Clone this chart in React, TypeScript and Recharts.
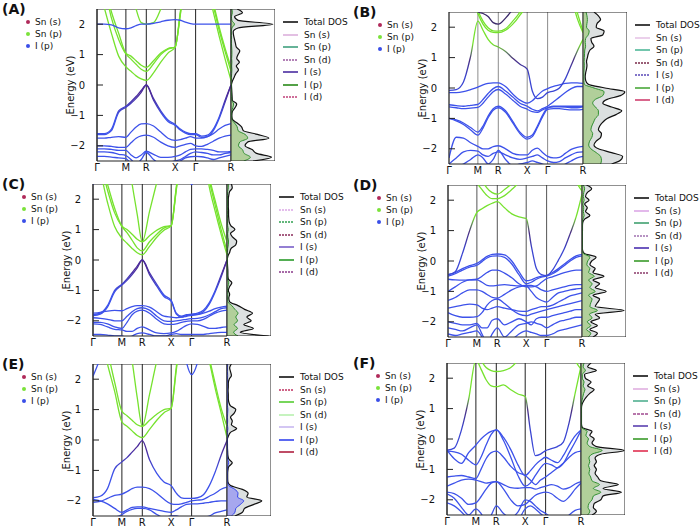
import { Area, ComposedChart, Line, LineChart, ReferenceLine, XAxis, YAxis } from "recharts";

// k-path (Γ-M-R-X-Γ-R) sample positions and high-symmetry points
const K_PATH = [0, 0.177, 0.354, 0.53, 0.707, 0.832, 0.957, 1.082, 1.207, 1.384, 1.561, 1.737, 1.914, 2.039, 2.164, 2.289, 2.414, 2.558, 2.703, 2.847, 2.991, 3.136, 3.28];
const HS_INDEX = [0, 4, 8, 12, 16, 22];
const HS_LABELS = ["Γ", "M", "R", "X", "Γ", "R"];
const E_TICKS = [-2, -1, 0, 1, 2];
const E_GRID = [-2.5, -2.375, -2.25, -2.125, -2, -1.875, -1.75, -1.625, -1.5, -1.375, -1.25, -1.125, -1, -0.875, -0.75, -0.625, -0.5, -0.375, -0.25, -0.125, 0, 0.125, 0.25, 0.375, 0.5, 0.625, 0.75, 0.875, 1, 1.125, 1.25, 1.375, 1.5, 1.625, 1.75, 1.875, 2, 2.125, 2.25, 2.375, 2.5];
const DOT_LABELS = ["Sn (s)", "Sn (p)", "I (p)"];
const LEGEND_LABELS = ["Total DOS", "Sn (s)", "Sn (p)", "Sn (d)", "I (s)", "I (p)", "I (d)"];
const PANEL_TAGS = ["(A)", "(B)", "(C)", "(D)", "(E)", "(F)"];

// ---- panel A ----
const A_VALENCE = [
  [-1.6, -1.6, -1.45, -0.85, -0.7, -0.55, -0.38, -0.18, 0, -0.45, -0.85, -1.15, -1.3, -1.45, -1.55, -1.6, -1.6, -1.68, -1.65, -1.45, -1.05, -0.5, 0],
  [-1.63, -1.63, -1.5, -0.9, -0.73, -0.6, -0.44, -0.24, 0, -0.5, -0.9, -1.2, -1.33, -1.48, -1.58, -1.63, -1.63, -1.72, -1.7, -1.5, -1.1, -0.56, 0],
  [-1.75, -1.75, -1.72, -1.7, -1.72, -1.55, -1.38, -1.28, -1.27, -1.35, -1.55, -1.75, -1.82, -1.8, -1.75, -1.7, -1.75, -1.75, -1.7, -1.6, -1.45, -1.33, -1.27],
  [-2.0, -2.0, -2.02, -2.05, -2.05, -1.9, -1.75, -1.67, -1.65, -1.72, -1.88, -2.0, -2.05, -2.0, -1.95, -1.92, -2.0, -2.02, -1.95, -1.85, -1.75, -1.68, -1.65],
  [-2.1, -2.1, -2.12, -2.15, -2.15, -2.3, -2.4, -2.3, -2.18, -2.28, -2.38, -2.38, -2.35, -2.3, -2.2, -2.12, -2.1, -2.1, -2.12, -2.15, -2.2, -2.2, -2.18],
  [-2.2, -2.2, -2.22, -2.28, -2.32, -2.45, -2.6, -2.45, -2.22, -2.45, -2.6, -2.55, -2.5, -2.45, -2.35, -2.25, -2.2, -2.22, -2.25, -2.3, -2.3, -2.25, -2.22],
  [-2.35, -2.35, -2.37, -2.4, -2.42, -2.6, -2.8, -2.7, -2.6, -2.7, -2.8, -2.7, -2.6, -2.5, -2.4, -2.36, -2.35, -2.36, -2.4, -2.45, -2.4, -2.35, -2.3],
];
const A_CONDUCTION = [
  [3.5, 2.55, 1.7, 0.95, 0.6, 0.45, 0.3, 0.2, 0.15, 0.4, 0.75, 1.05, 1.25, 2.3, 3.5, 3.5, 3.5, 3.5, 3.2, 2.4, 1.6, 0.85, 0.15],
  [3.5, 3.2, 2.2, 1.5, 1.02, 0.85, 0.68, 0.52, 0.45, 0.7, 1.0, 1.18, 1.25, 2.35, 3.5, 3.5, 3.5, 3.5, 3.3, 2.6, 1.8, 1.1, 0.45],
  [3.5, 3.3, 2.4, 1.7, 1.05, 0.95, 0.8, 0.65, 0.58, 0.8, 1.05, 1.2, 1.25, 2.4, 3.5, 3.5, 3.5, 3.5, 3.4, 2.7, 1.9, 1.2, 0.58],
  [3.5, 3.5, 3.5, 3.5, 3.5, 3.2, 2.5, 2.05, 2.0, 2.05, 2.5, 3.2, 3.5, 3.5, 3.5, 3.5, 3.5, 3.5, 3.5, 3.5, 3.5, 3.5, 3.5],
];
const A_UPPER = [2.0, 2.0, 1.98, 1.88, 1.85, 1.88, 1.95, 2.0, 2.0, 2.03, 2.08, 2.13, 2.15, 2.13, 2.07, 2.02, 2.0, 2.0, 2.0, 2.0, 2.0, 2.0, 2.0];
const A_DOS_TOTAL = [5.0, 9.2, 5.8, 4.8, 3.2, 3.8, 8.6, 6.0, 2.8, 2.4, 1.4, 0.3, 0.2, 0.3, 0.9, 1.3, 0.3, 0.25, 0.2, 0.15, 0.1, 0.3, 0.7, 1.1, 1.7, 1.2, 1.9, 1.3, 1.6, 2.0, 1.2, 1.0, 0.8, 0.6, 0.5, 1.6, 9.5, 1.6, 0.8, 2.6, 1.4];
const A_DOS_IP = [2.9, 4.4, 3.0, 2.6, 1.7, 2.0, 3.8, 3.2, 1.6, 1.4, 0.8, 0.15, 0.1, 0.15, 0.4, 0.6, 0.15, 0.1, 0.1, 0.05, 0.05, 0.05, 0.1, 0.15, 0.2, 0.15, 0.2, 0.15, 0.2, 0.2, 0.15, 0.1, 0.1, 0.1, 0.1, 0.2, 0.8, 0.2, 0.1, 0.3, 0.2];

// ---- panel B ----
const B_VALENCE = [
  [-0.15, -0.15, -0.12, -0.05, 0.03, 0.1, 0.15, 0.17, 0.17, 0.05, -0.2, -0.4, -0.5, -0.42, -0.25, -0.1, -0.02, 0.05, 0.1, 0.15, 0.17, 0.17, 0.15],
  [-0.55, -0.58, -0.6, -0.57, -0.54, -0.38, -0.18, -0.02, 0.05, -0.1, -0.3, -0.5, -0.6, -0.7, -0.75, -0.68, -0.6, -0.45, -0.3, -0.15, -0.02, 0.05, 0.05],
  [-0.62, -0.65, -0.68, -0.66, -0.64, -0.5, -0.3, -0.12, -0.05, -0.2, -0.4, -0.6, -0.7, -0.78, -0.8, -0.72, -0.65, -0.6, -0.6, -0.6, -0.6, -0.6, -0.6],
  [-1.0, -1.05, -1.15, -1.3, -1.45, -1.25, -0.92, -0.68, -0.6, -0.75, -1.1, -1.45, -1.62, -1.55, -1.25, -0.9, -0.65, -0.62, -0.62, -0.63, -0.65, -0.65, -0.62],
  [-1.0, -1.08, -1.2, -1.38, -1.55, -1.32, -0.98, -0.73, -0.65, -0.8, -1.15, -1.5, -1.68, -1.6, -1.3, -0.95, -0.7, -0.68, -0.68, -0.7, -0.72, -0.72, -0.7],
  [-2.3, -1.62, -1.65, -1.8, -1.92, -2.0, -2.0, -1.93, -1.9, -2.0, -2.15, -2.2, -2.2, -2.05, -1.98, -2.12, -2.25, -2.3, -2.28, -2.15, -2.02, -1.95, -1.92],
  [-2.5, -2.3, -2.1, -2.05, -2.08, -2.2, -2.25, -2.15, -2.1, -2.2, -2.3, -2.35, -2.3, -2.25, -2.2, -2.3, -2.4, -2.45, -2.42, -2.3, -2.2, -2.12, -2.1],
  [-2.7, -2.6, -2.5, -2.35, -2.2, -2.3, -2.5, -2.35, -2.05, -2.35, -2.55, -2.5, -2.45, -2.4, -2.45, -2.5, -2.55, -2.6, -2.6, -2.5, -2.4, -2.3, -2.25],
];
const B_MAIN = [-0.08, -0.05, 0.2, 1.05, 2.2, 1.9, 1.6, 1.42, 1.35, 1.2, 0.98, 0.78, 0.62, -0.1, -0.35, -0.3, -0.15, -0.1, 0.0, 0.3, 0.75, 1.2, 1.6];
const B_CONDUCTION = [
  [3.5, 3.5, 3.5, 3.2, 2.45, 2.1, 1.9, 1.83, 1.82, 1.9, 2.1, 2.4, 2.8, 3.5, 3.5, 3.5, 3.5, 3.5, 3.5, 3.5, 3.0, 2.3, 1.82],
  [3.5, 3.5, 3.5, 3.3, 2.55, 2.2, 1.98, 1.88, 1.87, 1.95, 2.2, 2.5, 3.0, 3.5, 3.5, 3.5, 3.5, 3.5, 3.5, 3.5, 3.2, 2.5, 1.87],
];
const B_DARK = [3.5, 3.5, 3.5, 3.0, 2.5, 2.45, 2.35, 2.15, 2.1, 2.3, 2.6, 3.0, 3.5, 3.5, 3.5, 3.5, 3.5, 3.5, 3.5, 3.5, 3.5, 3.5, 3.5];
const B_DOS_TOTAL = [6.5, 8.5, 9.0, 6.5, 3.5, 2.5, 3.0, 4.0, 4.2, 3.5, 3.8, 4.5, 5.5, 7.5, 8.8, 6.5, 4.5, 5.5, 8.5, 9.5, 5.0, 1.2, 0.6, 0.5, 0.6, 0.8, 0.9, 0.8, 1.0, 1.2, 1.6, 2.5, 2.0, 1.8, 4.5, 4.8, 3.0, 3.2, 4.0, 3.5, 2.5];
const B_DOS_IP = [4.0, 4.2, 4.0, 3.0, 1.8, 1.3, 1.5, 2.0, 2.2, 1.8, 2.0, 2.4, 2.8, 3.5, 3.5, 2.8, 2.2, 2.8, 4.5, 4.8, 2.5, 0.3, 0.2, 0.2, 0.2, 0.25, 0.3, 0.25, 0.3, 0.35, 0.4, 0.6, 0.5, 0.6, 1.2, 1.4, 0.8, 0.9, 1.0, 0.9, 0.7];

// ---- panel C ----
const C_VALENCE = [
  [-1.8, -1.75, -1.5, -1.0, -0.8, -0.62, -0.42, -0.2, 0, -0.42, -0.8, -1.15, -1.33, -1.75, -1.85, -1.8, -1.78, -1.75, -1.65, -1.4, -1.0, -0.5, 0],
  [-1.83, -1.78, -1.55, -1.05, -0.82, -0.67, -0.48, -0.26, 0, -0.48, -0.86, -1.2, -1.36, -1.78, -1.88, -1.83, -1.8, -1.78, -1.7, -1.45, -1.05, -0.56, 0],
  [-1.75, -1.72, -1.68, -1.66, -1.67, -1.6, -1.53, -1.5, -1.5, -1.55, -1.7, -1.85, -1.88, -1.9, -1.88, -1.85, -1.82, -1.8, -1.75, -1.68, -1.6, -1.55, -1.52],
  [-1.9, -1.92, -1.95, -2.0, -2.0, -1.85, -1.7, -1.6, -1.57, -1.65, -1.85, -2.0, -2.02, -2.0, -1.98, -1.95, -1.93, -1.92, -1.88, -1.8, -1.7, -1.6, -1.57],
  [-2.05, -2.05, -2.1, -2.2, -2.25, -2.05, -1.8, -1.68, -1.65, -1.75, -1.95, -2.1, -2.12, -2.1, -2.05, -2.02, -2.0, -2.0, -1.95, -1.85, -1.75, -1.68, -1.65],
  [-2.1, -2.12, -2.2, -2.28, -2.3, -2.35, -2.35, -2.25, -2.2, -2.3, -2.4, -2.42, -2.4, -2.35, -2.25, -2.15, -2.1, -2.12, -2.18, -2.25, -2.25, -2.22, -2.2],
  [-2.45, -2.45, -2.47, -2.5, -2.5, -2.55, -2.5, -2.42, -2.4, -2.45, -2.5, -2.5, -2.45, -2.42, -2.45, -2.45, -2.45, -2.45, -2.45, -2.42, -2.4, -2.38, -2.38],
];
const C_CONDUCTION = [
  [3.5, 2.9, 1.9, 1.1, 0.72, 0.55, 0.38, 0.24, 0.17, 0.45, 0.75, 0.98, 1.12, 2.3, 3.5, 3.5, 3.5, 3.5, 3.5, 2.4, 1.6, 0.85, 0.17],
  [3.5, 3.2, 2.3, 1.55, 1.1, 0.9, 0.65, 0.4, 0.3, 0.6, 0.85, 1.05, 1.13, 2.35, 3.5, 3.5, 3.5, 3.5, 3.5, 2.6, 1.8, 1.0, 0.3],
  [3.5, 3.4, 2.5, 1.7, 1.12, 1.0, 0.85, 0.68, 0.6, 0.8, 0.98, 1.1, 1.13, 2.4, 3.5, 3.5, 3.5, 3.5, 3.5, 2.7, 1.95, 1.2, 0.6],
  [3.5, 3.5, 3.5, 3.5, 3.5, 3.5, 2.5, 1.5, 0.6, 1.6, 2.55, 3.5, 3.5, 3.5, 3.5, 3.5, 3.5, 3.5, 3.5, 3.5, 3.5, 3.5, 3.5],
];
const C_UPPER = [2.48, 3.0, 3.5, 3.5, 3.5, 3.5, 3.5, 3.5, 3.5, 3.5, 3.5, 3.5, 3.5, 3.5, 3.5, 3.0, 2.48, 3.0, 3.5, 3.5, 3.5, 3.5, 3.5];
const C_DOS_TOTAL = [9.5, 3.0, 6.0, 3.8, 5.5, 4.5, 5.8, 4.0, 2.5, 0.6, 0.4, 0.6, 0.3, 0.6, 1.1, 0.3, 0.2, 0.2, 0.15, 0.1, 0.05, 0.2, 0.6, 0.9, 2.0, 2.2, 1.3, 0.8, 1.8, 0.9, 0.5, 0.4, 0.35, 0.35, 0.3, 0.3, 0.3, 0.4, 0.6, 1.2, 1.0];
const C_DOS_IP = [2.5, 1.5, 2.4, 1.6, 2.4, 2.0, 2.5, 1.8, 1.1, 0.2, 0.15, 0.2, 0.1, 0.2, 0.4, 0.1, 0.1, 0.05, 0.05, 0.05, 0.05, 0.05, 0.1, 0.15, 0.3, 0.35, 0.2, 0.15, 0.3, 0.15, 0.1, 0.1, 0.1, 0.1, 0.1, 0.1, 0.1, 0.1, 0.15, 0.3, 0.3];

// ---- panel D ----
const D_VALENCE = [
  [-0.45, -0.38, -0.25, -0.15, -0.08, 0.03, 0.15, 0.22, 0.23, 0.2, 0.0, -0.35, -0.65, -0.62, -0.55, -0.5, -0.47, -0.38, -0.25, -0.1, 0.05, 0.17, 0.22],
  [-0.5, -0.42, -0.3, -0.2, -0.14, -0.02, 0.1, 0.16, 0.17, 0.12, -0.1, -0.45, -0.75, -0.7, -0.6, -0.53, -0.5, -0.42, -0.3, -0.15, 0.0, 0.12, 0.17],
  [-0.6, -0.62, -0.63, -0.62, -0.6, -0.5, -0.38, -0.3, -0.3, -0.4, -0.55, -0.75, -0.85, -0.85, -0.82, -0.7, -0.58, -0.52, -0.45, -0.38, -0.33, -0.3, -0.3],
  [-1.0, -0.85, -0.7, -0.62, -0.62, -0.7, -0.8, -0.82, -0.8, -0.78, -0.8, -0.82, -0.8, -0.8, -0.85, -0.95, -1.0, -0.95, -0.9, -0.85, -0.8, -0.78, -0.78],
  [-1.3, -1.2, -1.05, -0.95, -0.95, -1.0, -1.1, -1.2, -1.22, -1.1, -0.95, -0.85, -0.82, -1.0, -1.2, -1.3, -1.35, -1.2, -1.05, -1.0, -0.95, -0.92, -0.9],
  [-1.55, -1.5, -1.45, -1.42, -1.44, -1.55, -1.6, -1.55, -1.5, -1.55, -1.6, -1.65, -1.66, -1.6, -1.55, -1.5, -1.5, -1.45, -1.35, -1.25, -1.15, -1.1, -1.05],
  [-1.7, -1.8, -1.85, -1.85, -1.83, -1.7, -1.45, -1.3, -1.25, -1.4, -1.6, -1.75, -1.8, -1.75, -1.7, -1.65, -1.6, -1.55, -1.5, -1.45, -1.4, -1.35, -1.3],
  [-2.0, -2.05, -2.1, -2.1, -2.05, -2.2, -2.2, -1.95, -1.9, -2.1, -2.0, -1.9, -2.0, -2.1, -1.9, -1.85, -1.85, -1.8, -1.75, -1.7, -1.65, -1.6, -1.6],
  [-2.2, -2.25, -2.3, -2.2, -2.1, -2.4, -2.7, -2.4, -2.2, -2.5, -2.3, -2.1, -2.05, -2.0, -2.05, -2.1, -2.2, -2.1, -2.0, -1.95, -1.9, -1.85, -1.85],
  [-2.4, -2.45, -2.4, -2.35, -2.3, -2.5, -2.8, -2.7, -2.6, -2.8, -2.6, -2.4, -2.3, -2.35, -2.4, -2.45, -2.45, -2.4, -2.3, -2.25, -2.2, -2.15, -2.1],
];
const D_MAIN = [-0.45, -0.35, 0.25, 1.0, 1.6, 1.72, 1.82, 1.9, 1.95, 1.75, 1.55, 1.45, 1.4, 0.5, -0.25, -0.45, -0.48, -0.3, 0.03, 0.4, 0.9, 1.45, 2.2];
const D_CONDUCTION = [
  [3.5, 3.5, 3.5, 3.5, 2.6, 2.35, 2.15, 2.05, 2.05, 2.15, 2.35, 2.6, 3.0, 3.5, 3.5, 3.5, 3.5, 3.5, 3.5, 3.5, 3.0, 2.6, 2.3],
  [3.5, 3.5, 3.5, 3.5, 3.5, 2.7, 2.4, 2.25, 2.2, 2.35, 2.55, 2.8, 3.2, 3.5, 3.5, 3.5, 3.5, 3.5, 3.5, 3.5, 3.5, 2.6, 2.45],
];
const D_DOS_TOTAL = [2.5, 3.5, 1.8, 3.5, 2.0, 4.0, 3.0, 9.6, 3.0, 3.5, 4.0, 2.5, 5.5, 3.0, 4.0, 2.5, 5.0, 2.5, 3.0, 1.8, 2.2, 3.2, 0.5, 0.1, 0.08, 0.08, 0.08, 0.08, 0.1, 0.1, 0.15, 0.6, 1.8, 0.8, 1.2, 0.6, 1.6, 0.8, 1.2, 2.2, 1.0];
const D_DOS_IP = [1.4, 2.0, 1.0, 2.0, 1.2, 2.3, 1.7, 3.5, 1.8, 2.0, 2.3, 1.5, 3.0, 1.8, 2.3, 1.5, 2.8, 1.5, 1.8, 1.1, 1.3, 1.8, 0.3, 0.05, 0.04, 0.04, 0.04, 0.04, 0.05, 0.05, 0.08, 0.2, 0.5, 0.3, 0.4, 0.2, 0.5, 0.3, 0.4, 0.6, 0.3];

// ---- panel E ----
const E_VALENCE = [
  [-1.9, -1.85, -1.6, -0.95, -0.72, -0.58, -0.4, -0.22, -0.02, -0.65, -1.1, -1.38, -1.5, -1.75, -1.9, -1.92, -1.92, -1.9, -1.8, -1.5, -1.05, -0.5, -0.02],
  [-2.05, -2.02, -1.92, -1.82, -1.78, -1.7, -1.6, -1.55, -1.55, -1.6, -1.75, -1.95, -2.1, -2.12, -2.1, -2.05, -2.0, -1.98, -1.95, -1.85, -1.75, -1.62, -1.55],
  [-1.95, -2.0, -2.1, -2.25, -2.38, -2.3, -2.22, -2.2, -2.2, -2.25, -2.3, -2.35, -2.38, -2.3, -2.2, -2.12, -2.1, -2.1, -2.08, -2.05, -2.02, -2.0, -2.0],
  [-2.6, -2.6, -2.6, -2.55, -2.45, -2.35, -2.28, -2.25, -2.25, -2.3, -2.45, -2.55, -2.5, -2.5, -2.55, -2.6, -2.6, -2.6, -2.55, -2.5, -2.4, -2.35, -2.3],
];
const E_CONDUCTION = [
  [3.5, 3.5, 2.5, 1.6, 0.6, 0.45, 0.3, 0.15, 0.08, 0.35, 0.65, 0.9, 1.05, 2.3, 3.5, 3.5, 3.5, 3.5, 3.5, 2.6, 1.7, 0.9, 0.08],
  [3.5, 3.5, 2.9, 1.9, 0.95, 0.8, 0.65, 0.5, 0.45, 0.65, 0.85, 1.0, 1.05, 2.4, 3.5, 3.5, 3.5, 3.5, 3.5, 2.7, 1.85, 1.05, 0.45],
  [3.5, 3.5, 3.5, 3.5, 3.5, 3.5, 2.6, 1.4, 0.45, 1.5, 2.6, 3.5, 3.5, 3.5, 3.5, 3.5, 3.5, 3.5, 3.5, 3.5, 3.5, 3.5, 3.5],
];
const E_UPPER = [2.1, 2.7, 3.5, 3.5, 3.5, 3.5, 3.5, 3.5, 3.5, 3.5, 3.5, 3.5, 3.5, 3.5, 3.5, 2.55, 2.15, 2.55, 3.5, 3.5, 3.5, 3.5, 3.5];
const E_DOS_TOTAL = [1.8, 3.5, 4.0, 6.0, 7.9, 4.5, 4.8, 3.5, 0.8, 0.2, 0.15, 0.15, 0.2, 0.4, 1.2, 0.4, 0.2, 0.15, 0.1, 0.1, 0.05, 0.3, 0.8, 2.2, 1.0, 1.2, 0.8, 1.6, 2.0, 0.8, 0.4, 0.3, 0.3, 0.25, 0.3, 0.3, 0.5, 1.0, 0.8, 0.6, 1.0];
const E_DOS_IP = [1.0, 1.8, 2.0, 3.0, 3.8, 2.4, 2.5, 1.8, 0.4, 0.1, 0.05, 0.05, 0.1, 0.15, 0.4, 0.15, 0.05, 0.05, 0.05, 0.05, 0.02, 0.05, 0.1, 0.2, 0.1, 0.15, 0.1, 0.15, 0.2, 0.1, 0.05, 0.05, 0.05, 0.05, 0.05, 0.05, 0.1, 0.15, 0.1, 0.1, 0.15];

// ---- panel F ----
const F_VALENCE = [
  [-0.37, -0.65, -0.8, -0.45, -0.2, 0.0, 0.15, 0.25, 0.3, 0.05, -0.35, -0.85, -1.2, -1.05, -0.85, -0.7, -0.6, -0.7, -0.78, -0.55, -0.2, 0.1, 0.3],
  [-0.4, -0.42, -0.5, -0.7, -0.85, -0.6, -0.2, 0.15, 0.3, -0.05, -0.6, -1.2, -1.55, -1.45, -1.2, -0.95, -0.8, -0.85, -0.95, -0.8, -0.45, -0.1, 0.28],
  [-1.25, -1.22, -1.2, -1.25, -1.3, -1.0, -0.65, -0.45, -0.4, -0.6, -0.9, -1.1, -1.2, -1.35, -1.5, -1.35, -1.25, -1.1, -0.95, -0.8, -0.6, -0.45, -0.4],
  [-1.55, -1.45, -1.35, -1.32, -1.35, -1.4, -1.45, -1.42, -1.4, -1.5, -1.6, -1.62, -1.6, -1.6, -1.65, -1.6, -1.55, -1.5, -1.55, -1.65, -1.6, -1.48, -1.4],
  [-1.75, -1.8, -1.95, -2.15, -2.1, -1.9, -1.65, -1.45, -1.4, -1.65, -2.0, -2.2, -2.15, -2.0, -1.85, -1.78, -1.75, -1.8, -1.95, -2.05, -1.9, -1.65, -1.45],
  [-1.8, -1.95, -2.25, -2.5, -2.3, -2.45, -2.7, -2.5, -2.2, -2.45, -2.6, -2.4, -2.0, -2.05, -2.2, -2.35, -2.45, -2.6, -2.8, -2.7, -2.5, -2.35, -2.3],
  [-2.1, -2.2, -2.4, -2.6, -2.6, -2.8, -3.0, -2.9, -2.7, -2.8, -2.9, -2.7, -2.3, -2.2, -2.3, -2.45, -2.6, -2.8, -3.0, -2.9, -2.8, -2.7, -2.6],
];
const F_MAIN = [-0.37, -0.3, 0.3, 1.3, 2.6, 2.3, 1.95, 1.75, 1.72, 1.78, 1.62, 1.48, 1.4, 0.3, -0.55, -0.5, -0.38, -0.32, -0.25, -0.1, 0.55, 1.5, 2.4];
const F_CONDUCTION = [
  [3.5, 3.5, 3.5, 3.5, 3.0, 2.6, 2.35, 2.25, 2.22, 2.25, 2.35, 2.6, 3.0, 3.5, 3.5, 3.5, 3.5, 3.5, 3.5, 3.5, 3.2, 2.6, 2.3],
];
const F_DOS_TOTAL = [2.5, 3.5, 2.8, 3.0, 4.5, 5.0, 9.2, 5.0, 8.5, 4.5, 3.8, 3.2, 3.5, 3.0, 3.5, 3.2, 4.5, 9.8, 3.5, 2.5, 3.0, 2.0, 2.5, 0.3, 0.1, 0.1, 0.1, 0.1, 0.1, 0.2, 0.6, 1.2, 2.0, 3.0, 1.5, 2.3, 1.0, 0.8, 3.5, 1.5, 2.3];
const F_DOS_IP = [1.5, 2.0, 1.6, 1.8, 2.5, 2.8, 4.5, 2.8, 4.2, 2.5, 2.2, 1.8, 2.0, 1.7, 2.0, 1.8, 2.5, 4.8, 2.0, 1.4, 1.7, 1.1, 1.4, 0.15, 0.05, 0.05, 0.05, 0.05, 0.05, 0.1, 0.2, 0.4, 0.6, 0.9, 0.5, 0.7, 0.3, 0.3, 1.0, 0.5, 0.7];

// ---- layout / styling ----
const BAND_W = 134;
const DOS_W = 44;
const PLOT_H = 152;
const AXIS_W = 54;
const XAXIS_H = 16;
const FONT = "'DejaVu Sans', 'Liberation Sans', sans-serif";
const FRAME = "#222";
const BLUE = "#3d52ea";
const GREEN = "#76e22e";
const DOT_COLORS = ["#b02a5a", "#7be23a", "#3a4ee8"];

type BandStyle = "vb" | "vbTop" | "cb" | "cbMain" | "blue" | "dark";

interface Band {
  values: number[];
  style: BandStyle;
}

interface Panel {
  id: string;
  tag: string;
  left: number;
  top: number;
  bands: Band[];
  dosTotal: number[];
  dosPart: number[];
  partFill: string;
  partStroke: string;
  gridStroke: string;
  legendColors: string[];
  legendDash: (string | undefined)[];
}

const vbSet = (rows: number[][], topCount: number): Band[] =>
  rows.map((values, i) => ({ values, style: i < topCount ? "vbTop" : "vb" }));
const cbSet = (rows: number[][]): Band[] => rows.map((values) => ({ values, style: "cb" }));

const PANELS: Panel[] = [
  {
    id: "a", tag: PANEL_TAGS[0], left: 97, top: 9,
    bands: [...vbSet(A_VALENCE, 2), ...cbSet(A_CONDUCTION), { values: A_UPPER, style: "blue" }],
    dosTotal: A_DOS_TOTAL, dosPart: A_DOS_IP, partFill: "#a9cb8d", partStroke: "#2f8f2f", gridStroke: "#222",
    legendColors: ["#111", "#dcb0dc", "#3fa07e", "#9a5aa0", "#4a2ca0", "#2a8a1a", "#c0407a"],
    legendDash: [undefined, undefined, undefined, "2 1", undefined, undefined, "2 1"],
  },
  {
    id: "b", tag: PANEL_TAGS[1], left: 449, top: 12,
    bands: [...vbSet(B_VALENCE, 0), { values: B_MAIN, style: "cbMain" }, ...cbSet(B_CONDUCTION), { values: B_DARK, style: "dark" }],
    dosTotal: B_DOS_TOTAL, dosPart: B_DOS_IP, partFill: "#a9cb8d", partStroke: "#2f8f2f", gridStroke: "#8c8c8c",
    legendColors: ["#111", "#e6c4e6", "#50b898", "#7a2a4a", "#5a48b8", "#4aa83a", "#d04070"],
    legendDash: [undefined, undefined, undefined, "2 1", "2 1", undefined, undefined],
  },
  {
    id: "c", tag: PANEL_TAGS[2], left: 93, top: 184,
    bands: [...vbSet(C_VALENCE, 2), ...cbSet(C_CONDUCTION), { values: C_UPPER, style: "blue" }],
    dosTotal: C_DOS_TOTAL, dosPart: C_DOS_IP, partFill: "#a9cb8d", partStroke: "#2f8f2f", gridStroke: "#222",
    legendColors: ["#111", "#dca8e6", "#30a050", "#8a2a5a", "#7a60c8", "#2a9a2a", "#8a3a8a"],
    legendDash: [undefined, "2 1", "2 1", "2 1", undefined, undefined, "2 1"],
  },
  {
    id: "d", tag: PANEL_TAGS[3], left: 448, top: 185,
    bands: [...vbSet(D_VALENCE, 0), { values: D_MAIN, style: "cbMain" }, ...cbSet(D_CONDUCTION)],
    dosTotal: D_DOS_TOTAL, dosPart: D_DOS_IP, partFill: "#a9cb8d", partStroke: "#2f8f2f", gridStroke: "#555",
    legendColors: ["#111", "#dca8e6", "#40a070", "#a070b0", "#4a30b0", "#3a9a2a", "#8a3a6a"],
    legendDash: [undefined, undefined, undefined, "2 1", undefined, undefined, "2 1"],
  },
  {
    id: "e", tag: PANEL_TAGS[4], left: 93, top: 364,
    bands: [...vbSet(E_VALENCE, 1), ...cbSet(E_CONDUCTION), { values: E_UPPER, style: "blue" }],
    dosTotal: E_DOS_TOTAL, dosPart: E_DOS_IP, partFill: "#9c9cf0", partStroke: "#3344ee", gridStroke: "#222",
    legendColors: ["#111", "#c03060", "#55cc33", "#b8f0b0", "#c8b8f0", "#3344ee", "#b02040"],
    legendDash: [undefined, "2 1", undefined, undefined, undefined, undefined, undefined],
  },
  {
    id: "f", tag: PANEL_TAGS[5], left: 447, top: 363,
    bands: [...vbSet(F_VALENCE, 0), { values: F_MAIN, style: "cbMain" }, ...cbSet(F_CONDUCTION)],
    dosTotal: F_DOS_TOTAL, dosPart: F_DOS_IP, partFill: "#a9cb8d", partStroke: "#2f8f2f", gridStroke: "#222",
    legendColors: ["#111", "#e0b0e0", "#50b090", "#a04a90", "#5a40b0", "#3a9a2a", "#e03050"],
    legendDash: [undefined, undefined, undefined, "3 1", undefined, undefined, undefined],
  },
];

const fmtE = (v: number) => (v < 0 ? `−${Math.abs(v)}` : `${v}`);

function strokeFor(style: BandStyle, id: string) {
  if (style === "vbTop") return `url(#vt-${id})`;
  if (style === "cbMain") return `url(#cm-${id})`;
  if (style === "cb") return GREEN;
  if (style === "dark") return "#3b2a6a";
  return BLUE;
}

function BandChart({ p }: { p: Panel }) {
  const rows = K_PATH.map((k, i) => {
    const row: Record<string, number> = { k };
    p.bands.forEach((b, j) => {
      row[`b${j}`] = b.values[i];
    });
    return row;
  });
  const hsK = HS_INDEX.map((i) => K_PATH[i]);
  const kMax = K_PATH[K_PATH.length - 1];

  return (
    <div style={{ position: "absolute", left: p.left - AXIS_W, top: p.top }}>
      <LineChart
        width={AXIS_W + BAND_W + 1 + 10}
        height={PLOT_H + XAXIS_H}
        data={rows}
        margin={{ top: 0, right: 10, bottom: 0, left: 0 }}
      >
        <defs>
          <linearGradient id={`vt-${p.id}`} gradientUnits="userSpaceOnUse" x1="0" y1="0" x2="0" y2={PLOT_H}>
            <stop offset="0" stopColor="#4b2a9a" />
            <stop offset="0.56" stopColor="#4b2a9a" />
            <stop offset="0.72" stopColor={BLUE} />
            <stop offset="1" stopColor={BLUE} />
          </linearGradient>
          <linearGradient id={`cm-${p.id}`} gradientUnits="userSpaceOnUse" x1="0" y1="0" x2="0" y2={PLOT_H}>
            <stop offset="0" stopColor={GREEN} />
            <stop offset="0.21" stopColor={GREEN} />
            <stop offset="0.31" stopColor="#4a2f80" />
            <stop offset="0.43" stopColor="#3a44d0" />
            <stop offset="1" stopColor={BLUE} />
          </linearGradient>
        </defs>
        <XAxis
          type="number"
          dataKey="k"
          domain={[0, kMax]}
          ticks={hsK}
          interval={0}
          tickFormatter={(_v: number, i: number) => HS_LABELS[i]}
          tickLine={false}
          tickSize={0}
          tickMargin={3}
          axisLine={{ stroke: FRAME }}
          tick={{ fontSize: 10, fill: "#111", fontFamily: FONT }}
          height={XAXIS_H}
          allowDataOverflow
        />
        <YAxis
          type="number"
          domain={[-2.5, 2.5]}
          ticks={E_TICKS}
          width={AXIS_W}
          tickSize={-6}
          tickMargin={18}
          tickFormatter={fmtE}
          tick={{ fontSize: 10, fill: "#111", fontFamily: FONT }}
          axisLine={{ stroke: FRAME }}
          tickLine={{ stroke: FRAME }}
          allowDataOverflow
          label={{ value: "Energy (eV)", angle: -90, position: "center", style: { fontSize: 10, fill: "#111", fontFamily: FONT } }}
        />
        <YAxis
          yAxisId="r"
          orientation="right"
          type="number"
          domain={[-2.5, 2.5]}
          ticks={E_TICKS}
          width={1}
          tick={false}
          tickSize={-6}
          axisLine={false}
          tickLine={{ stroke: FRAME }}
        />
        {hsK.map((k, i) => (
          <ReferenceLine key={`hs-${i}`} x={k} stroke={p.gridStroke} strokeWidth={1} />
        ))}
        <ReferenceLine y={2.5} stroke={FRAME} />
        {p.bands.map((b, j) => (
          <Line
            key={`b${j}`}
            dataKey={`b${j}`}
            type="monotone"
            stroke={strokeFor(b.style, p.id)}
            strokeWidth={1.3}
            dot={false}
            activeDot={false}
            isAnimationActive={false}
          />
        ))}
      </LineChart>
    </div>
  );
}

function DosChart({ p }: { p: Panel }) {
  const rows = E_GRID.map((e, i) => ({ e, total: p.dosTotal[i], part: p.dosPart[i] }));
  return (
    <div style={{ position: "absolute", left: p.left + BAND_W - 1, top: p.top }}>
      <ComposedChart
        layout="vertical"
        width={DOS_W + 1}
        height={PLOT_H}
        data={rows}
        margin={{ top: 0, right: 0, bottom: 0, left: 0 }}
      >
        <XAxis type="number" domain={[0, 10]} hide allowDataOverflow />
        <YAxis
          type="number"
          dataKey="e"
          domain={[-2.5, 2.5]}
          reversed
          ticks={E_TICKS}
          width={1}
          tick={false}
          tickSize={-6}
          axisLine={{ stroke: FRAME }}
          tickLine={{ stroke: FRAME }}
          allowDataOverflow
        />
        <Area dataKey="total" type="monotone" fill="#dce0e0" fillOpacity={1} stroke="#111" strokeWidth={1.2} isAnimationActive={false} />
        <Area dataKey="part" type="monotone" fill={p.partFill} fillOpacity={0.85} stroke={p.partStroke} strokeWidth={1} isAnimationActive={false} />
        <ReferenceLine x={10} stroke={FRAME} />
        <ReferenceLine y={2.5} stroke={FRAME} />
        <ReferenceLine y={-2.5} stroke={FRAME} />
      </ComposedChart>
    </div>
  );
}

function Legends({ p }: { p: Panel }) {
  const dosRight = p.left + BAND_W + DOS_W;
  return (
    <>
      <div style={{ position: "absolute", left: p.left > 300 ? 353 : 2, top: p.top - 8, fontFamily: FONT, fontSize: 14, fontWeight: "bold", lineHeight: "16px", color: "#111" }}>
        {p.tag}
      </div>
      {DOT_LABELS.map((label, i) => (
        <div key={label} style={{ position: "absolute", left: p.left - 71, top: p.top + 13 + i * 12 - 6, height: 12, display: "flex", alignItems: "center", fontFamily: FONT, fontSize: 9, color: "#111" }}>
          <span style={{ display: "inline-block", width: 4, height: 4, borderRadius: 2, background: DOT_COLORS[i], marginRight: 5 }} />
          {label}
        </div>
      ))}
      {LEGEND_LABELS.map((label, i) => (
        <div key={label} style={{ position: "absolute", left: dosRight + 8, top: p.top + 13 + i * 12.5 - 6, height: 12, display: "flex", alignItems: "center", fontFamily: FONT, fontSize: 9, color: "#111", whiteSpace: "nowrap" }}>
          <svg width={15} height={4} style={{ marginRight: 6 }}>
            <line x1={0} y1={2} x2={15} y2={2} stroke={p.legendColors[i]} strokeWidth={1.6} strokeDasharray={p.legendDash[i]} />
          </svg>
          {label}
        </div>
      ))}
    </>
  );
}

export default function App() {
  return (
    <div style={{ position: "fixed", left: 0, top: 0, width: 700, height: 529, background: "#fff", overflow: "hidden" }}>
      {PANELS.map((p) => (
        <div key={p.id}>
          <BandChart p={p} />
          <DosChart p={p} />
          <Legends p={p} />
        </div>
      ))}
    </div>
  );
}
